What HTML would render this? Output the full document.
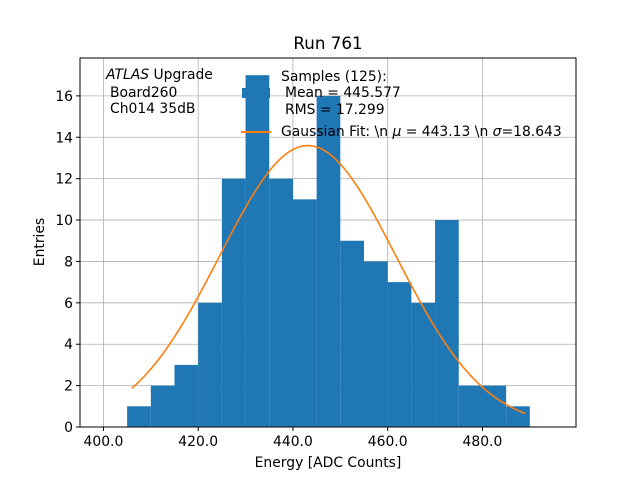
<!DOCTYPE html>
<html><head><meta charset="utf-8"><style>
body{margin:0;background:#fff}
svg{display:block;font-family:"DejaVu Sans","Liberation Sans",sans-serif}
</style></head><body>
<svg id="chart" width="640" height="480">
<text x="328" y="49" font-size="16.7" text-anchor="middle">Run 761</text>
<g id="grid"></g><g id="bars"></g><g id="fit"></g><g id="ticks"></g>
<rect x="80" y="58" width="496" height="369" fill="none" stroke="#000" stroke-width="1"/>
<text x="328" y="467" font-size="13.9" text-anchor="middle">Energy [ADC Counts]</text>
<text x="44" y="242" font-size="13.9" text-anchor="middle" transform="rotate(-90 44 242)">Entries</text>
<g font-size="13.9">
<text x="106" y="79"><tspan font-style="italic">ATLAS</tspan> Upgrade</text>
<text x="110" y="97">Board260</text>
<text x="110" y="113">Ch014 35dB</text>
</g>
<g font-size="13.9">
<rect x="242" y="88" width="28" height="10" fill="#1f77b4"/>
<text x="281" y="81">Samples (125):</text>
<text x="285" y="97">Mean = 445.577</text>
<text x="285" y="114">RMS = 17.299</text>
<line x1="241" y1="132" x2="271" y2="132" stroke="#ff7f0e" stroke-width="2"/>
<text x="281" y="136">Gaussian Fit: \n <tspan font-style="italic">μ</tspan> = 443.13 \n <tspan font-style="italic">σ</tspan>=18.643</text>
</g>
</svg>
<script>
const binStarts=[405,410,415,420,425,430,435,440,445,450,455,460,465,470,475,480,485];
const counts=[1,2,3,6,12,17,12,11,16,9,8,7,6,10,2,2,1];
const binWidth=5;
const xTicks=[400,420,440,460,480];
const yTicks=[0,2,4,6,8,10,12,14,16];
const fitMu=443.13, fitSigma=18.643, fitAmp=13.6, fitMin=406, fitMax=489;
const NS="http://www.w3.org/2000/svg";
const X0=80,X1=576,Y0=427,Y1=58,xmin=395.05,xmax=499.75,ymin=0,ymax=17.83;
const sx=v=>X0+(v-xmin)/(xmax-xmin)*(X1-X0);
const sy=v=>Y0-(v-ymin)/(ymax-ymin)*(Y0-Y1);
function mk(t,a,p){const e=document.createElementNS(NS,t);for(const k in a)e.setAttribute(k,a[k]);p.appendChild(e);return e;}
const grid=document.getElementById('grid'),bars=document.getElementById('bars'),fit=document.getElementById('fit'),ticks=document.getElementById('ticks');
xTicks.forEach(v=>{const x=sx(v);
const g=mk('line',{x1:x,x2:x,y1:Y1,y2:Y0,stroke:'#b0b0b0','stroke-width':0.8},grid);


const t=mk('line',{x1:x,x2:x,y1:Y0,y2:Y0+4,stroke:'#000'},ticks);


const l=mk('text',{x:x,y:Y0+19,'font-size':13.9,'text-anchor':'middle'},ticks);l.textContent=v.toFixed(1);

});
yTicks.forEach(v=>{const y=sy(v);
const g=mk('line',{x1:X0,x2:X1,y1:y,y2:y,stroke:'#b0b0b0','stroke-width':0.8},grid);


const t=mk('line',{x1:X0-4,x2:X0,y1:y,y2:y,stroke:'#000'},ticks);


const l=mk('text',{x:X0-7,y:y+5,'font-size':13.9,'text-anchor':'end'},ticks);l.textContent=v;

});
binStarts.forEach((b,i)=>{const x=sx(b),w=sx(b+binWidth)-x,y=sy(counts[i]);
const r=mk('rect',{x:x,y:y,width:w,height:Y0-y,fill:'#1f77b4'},bars);

});
let d='';for(let i=0;i<=100;i++){const v=fitMin+(fitMax-fitMin)*i/100;const f=fitAmp*Math.exp(-((v-fitMu)**2)/(2*fitSigma*fitSigma));d+=(i?'L':'M')+sx(v).toFixed(2)+','+sy(f).toFixed(2);}
const p=mk('path',{d:d,fill:'none',stroke:'#ff7f0e','stroke-width':1.6},fit);


</script>
</body></html>
